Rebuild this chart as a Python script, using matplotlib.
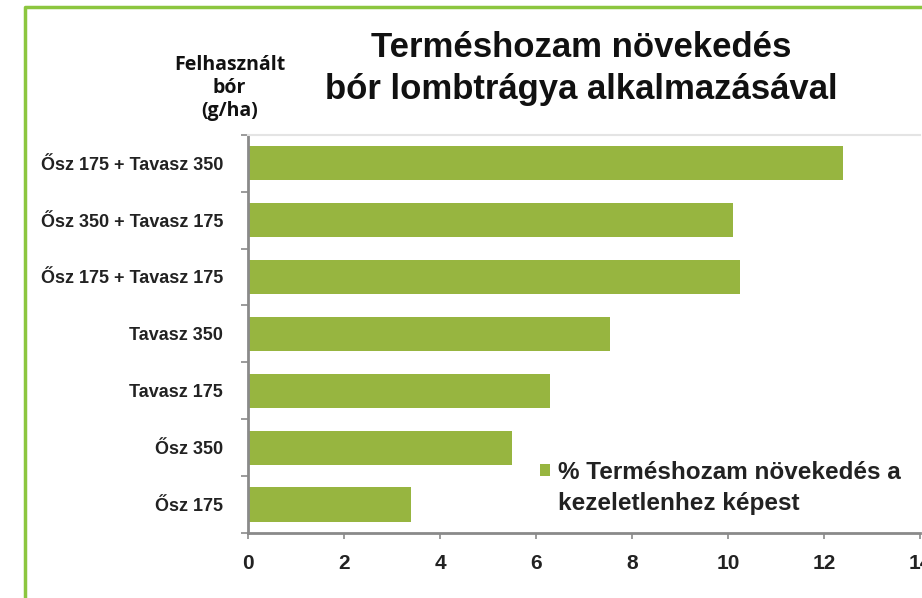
import matplotlib.pyplot as plt
import numpy as np
from matplotlib.lines import Line2D

# data -----------------------------------
categories = ['Ősz 175 + Tavasz 350', 'Ősz 350 + Tavasz 175', 'Ősz 175 + Tavasz 175',
              'Tavasz 350', 'Tavasz 175', 'Ősz 350', 'Ősz 175']
growth = [12.4, 10.1, 10.25, 7.55, 6.3, 5.5, 3.4]
xticks = [0, 2, 4, 6, 8, 10, 12, 14]
legend_lines = ['% Terméshozam növekedés a', 'kezeletlenhez képest']

bar_color = '#97b540'
frame_color = '#8cc63f'
spine_color = '#8a8a8a'
text_color = '#222222'

fig = plt.figure(figsize=(9.22, 5.98), dpi=100)
fig.patch.set_facecolor('white')

# green frame (left + top)
fig.add_artist(Line2D([0.027, 0.027, 1.0], [0.0, 0.988, 0.988],
                      transform=fig.transFigure, color=frame_color, lw=2.5))

ax = fig.add_axes([0.269, 0.1087, 0.7289, 0.666])
y = np.arange(len(categories))
ax.barh(y, growth, height=0.6, color=bar_color, label=legend_lines[0])
ax.set_xlim(0, 14)
ax.set_ylim(len(categories) - 0.5, -0.5)

ax.set_yticks(y)
ax.set_yticklabels(categories, fontfamily='Liberation Sans',
                   fontweight='bold', fontsize=13, color=text_color)
ax.set_yticks(np.arange(-0.5, len(categories), 1), minor=True)
ax.tick_params(axis='y', which='major', length=0, pad=18)
ax.tick_params(axis='y', which='minor', length=5, width=1.2, color=spine_color)

ax.set_xticks(xticks)
ax.set_xticklabels([str(t) for t in xticks], fontfamily='Liberation Sans',
                   fontweight='bold', fontsize=15, color=text_color)
ax.tick_params(axis='x', length=4, width=1.2, color=spine_color, pad=11)

for s in ['left', 'bottom']:
    ax.spines[s].set_color(spine_color)
    ax.spines[s].set_linewidth(2)
ax.spines['top'].set_color('#e4e4e4')
ax.spines['top'].set_linewidth(1.5)
ax.spines['right'].set_visible(False)

leg_prop = {'family': 'Liberation Sans', 'weight': 'bold', 'size': 17.5}
leg = ax.legend(loc='center left', bbox_to_anchor=(0.5857, 0.2107),
                bbox_transform=fig.transFigure, frameon=False,
                borderpad=0, borderaxespad=0,
                handlelength=0.42, handleheight=0.42, handletextpad=0.3,
                prop=leg_prop)
for t in leg.get_texts():
    t.set_color(text_color)

# second legend line, aligned under the first one
fig.canvas.draw()
bb = leg.get_texts()[0].get_window_extent().transformed(fig.transFigure.inverted())
fig.text(bb.x0, (bb.y0 + bb.y1) / 2 - 31 / 598, legend_lines[1], ha='left', va='center',
         fontfamily='Liberation Sans', fontweight='bold', fontsize=17.5, color=text_color)

# titles
fig.text(0.63, 0.886, 'Terméshozam növekedés\nbór lombtrágya alkalmazásával',
         ha='center', va='center', fontfamily='Liberation Sans', fontweight='bold',
         fontsize=25, color='#111111', linespacing=1.35)
fig.text(0.249, 0.853, 'Felhasznált\nbór\n(g/ha)', ha='center', va='center',
         fontfamily='Open Sans', fontweight='bold', fontsize=14, color='#111111',
         linespacing=1.2)

plt.savefig('out.png', dpi=100)
